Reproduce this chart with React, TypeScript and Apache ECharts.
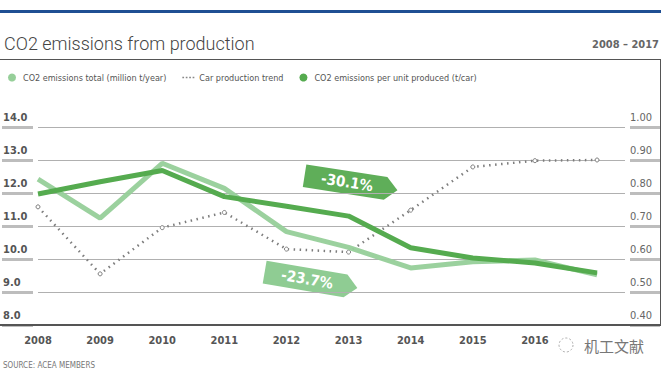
import React, { useEffect, useRef } from "react";
import * as echarts from "echarts";

const years = [2008, 2009, 2010, 2011, 2012, 2013, 2014, 2015, 2016, 2017];
const co2Total = [12.42, 11.24, 12.9, 12.14, 10.83, 10.35, 9.73, 9.92, 9.97, 9.52];
const carProduction = [11.58, 9.55, 10.95, 11.41, 10.3, 10.21, 11.48, 12.79, 12.98, 13.0];
const co2PerUnit = [0.797, 0.834, 0.868, 0.789, 0.76, 0.73, 0.634, 0.603, 0.588, 0.558];
const seriesNames = [
  "CO2 emissions total (million t/year)",
  "Car production trend",
  "CO2 emissions per unit produced (t/car)",
];
const tagLabels = ["-30.1%", "-23.7%"];

const COND = "'Liberation Sans Narrow', 'DejaVu Sans Condensed', 'Roboto', sans-serif";
const LIGHT = "#96cf99";
const DARK = "#55ab4f";
const DOT = "#7d7d7d";

export default function App() {
  const ref = useRef<HTMLDivElement>(null);
  useEffect(() => {
    if (!ref.current) return;
    const chart = echarts.init(ref.current, null, { renderer: "svg" });
    const pairs = (vals: number[]) => years.map((y, i) => [y, vals[i]]);
    const tag = (cx: number, cy: number, rot: number, color: string, label: string) => ({
      type: "group",
      x: cx,
      y: cy,
      rotation: rot,
      z: 100,
      children: [
        {
          type: "polygon",
          shape: { points: [[-47, -11.5], [35, -11.5], [47, 0], [35, 11.5], [-47, 11.5]] },
          style: { fill: color },
        },
        {
          type: "text",
          x: -4,
          y: 0,
          style: {
            text: label,
            fill: "#fff",
            font: `bold 15px ${COND}`,
            align: "center",
            verticalAlign: "middle",
          },
        },
      ],
    });
    chart.setOption({
      animation: false,
      backgroundColor: "#fff",
      grid: { left: 38, right: 41, top: 127, bottom: 47, containLabel: false },
      legend: {
        left: 3,
        top: 68,
        itemWidth: 12,
        itemHeight: 8,
        itemGap: 16,
        textStyle: { fontSize: 9, color: "#555", fontFamily: COND },
        data: [
          { name: seriesNames[0], icon: "circle", itemStyle: { color: LIGHT } },
          {
            name: seriesNames[1],
            icon: "path://M0,0h2v2h-2z M4,0h2v2h-2z M8,0h2v2h-2z M12,0h2v2h-2z",
            itemStyle: { color: "#888", borderWidth: 0 },
            lineStyle: { width: 0, opacity: 0 },
          },
          { name: seriesNames[2], icon: "circle", itemStyle: { color: DARK } },
        ],
      },
      xAxis: {
        type: "value",
        min: 2008,
        max: 2017.45,
        interval: 1,
        axisLine: { show: false },
        axisTick: { show: false },
        splitLine: { show: false },
        axisLabel: {
          margin: 10,
          color: "#555",
          fontWeight: "bold",
          fontSize: 11,
          fontFamily: COND,
          formatter: (v: number) => (Number.isInteger(v) && v <= 2016 ? String(v) : ""),
        },
      },
      yAxis: [
        {
          type: "value",
          min: 8,
          max: 14,
          interval: 1,
          offset: 5,
          axisLine: { show: false },
          axisTick: { show: true, length: 31, lineStyle: { color: "#bdbdbd", width: 3 } },
          splitLine: { show: true, lineStyle: { color: "#b0b0b0", width: 1 } },
          axisLabel: {
            align: "left",
            margin: 30,
            verticalAlign: "bottom",
            padding: [0, 0, 4, 0],
            color: "#555",
            fontWeight: "bold",
            fontSize: 11,
            fontFamily: COND,
            formatter: (v: number) => v.toFixed(1),
          },
        },
        {
          type: "value",
          min: 0.4,
          max: 1.0,
          interval: 0.1,
          offset: 5,
          position: "right",
          axisLine: { show: false },
          axisTick: { show: true, length: 30, lineStyle: { color: "#bdbdbd", width: 3 } },
          splitLine: { show: false },
          axisLabel: {
            align: "left",
            margin: 0,
            verticalAlign: "bottom",
            padding: [0, 0, 4, 0],
            color: "#666",
            fontSize: 11,
            fontFamily: COND,
            formatter: (v: number) => v.toFixed(2),
          },
        },
      ],
      series: [
        {
          name: seriesNames[1],
          type: "line",
          yAxisIndex: 0,
          data: pairs(carProduction),
          symbol: "circle",
          symbolSize: 4,
          showSymbol: true,
          lineStyle: { color: DOT, width: 2.5, type: [1.5, 4.5] },
          itemStyle: { color: "#fff", borderColor: DOT, borderWidth: 1 },
          z: 2,
        },
        {
          name: seriesNames[0],
          type: "line",
          yAxisIndex: 0,
          data: pairs(co2Total),
          symbol: "none",
          lineStyle: { color: LIGHT, width: 5, opacity: 0.95 },
          itemStyle: { color: LIGHT },
          z: 3,
        },
        {
          name: seriesNames[2],
          type: "line",
          yAxisIndex: 1,
          data: pairs(co2PerUnit),
          symbol: "none",
          lineStyle: { color: DARK, width: 5 },
          itemStyle: { color: DARK },
          z: 4,
        },
      ],
      graphic: [
        { type: "rect", shape: { x: 0, y: 10, width: 661, height: 3 }, style: { fill: "#1f4f93" } },
        {
          type: "text",
          x: 4,
          y: 43,
          style: {
            text: "CO2 emissions from production",
            font: "300 18px 'Roboto', sans-serif",
            fill: "#444",
            verticalAlign: "middle",
          },
        },
        {
          type: "text",
          x: 659,
          y: 44,
          style: {
            text: "2008 – 2017",
            font: `bold 11px ${COND}`,
            fill: "#666",
            align: "right",
            verticalAlign: "middle",
          },
        },
        { type: "line", shape: { x1: 0, y1: 59.5, x2: 661, y2: 59.5 }, style: { stroke: "#555", lineWidth: 1 } },
        { type: "line", shape: { x1: 660.5, y1: 59, x2: 660.5, y2: 326 }, style: { stroke: "#555", lineWidth: 1 } },
        { type: "line", shape: { x1: 0, y1: 325, x2: 661, y2: 325 }, z: 50, style: { stroke: "#555", lineWidth: 2 } },
        {
          type: "text",
          x: 3,
          y: 365,
          style: {
            text: "SOURCE: ACEA MEMBERS",
            font: `8px ${COND}`,
            fill: "#777",
            verticalAlign: "middle",
          },
        },
        tag(351, 183, -0.155, "#5fae59", tagLabels[0]),
        tag(311, 280, -0.17, "#8fcc93", tagLabels[1]),
        {
          type: "circle",
          shape: { cx: 566, cy: 345, r: 7 },
          style: { fill: "none", stroke: "#aaa", lineWidth: 1, lineDash: [2, 2] },
        },
        {
          type: "text",
          x: 584,
          y: 345,
          style: {
            text: "机工文献",
            font: "15px 'Noto Sans CJK SC', sans-serif",
            fill: "#777",
            verticalAlign: "middle",
          },
        },
      ],
    });
    return () => chart.dispose();
  }, []);
  return (
    <div
      ref={ref}
      style={{ position: "fixed", left: 0, top: 0, width: 666, height: 372, background: "#fff" }}
    />
  );
}
